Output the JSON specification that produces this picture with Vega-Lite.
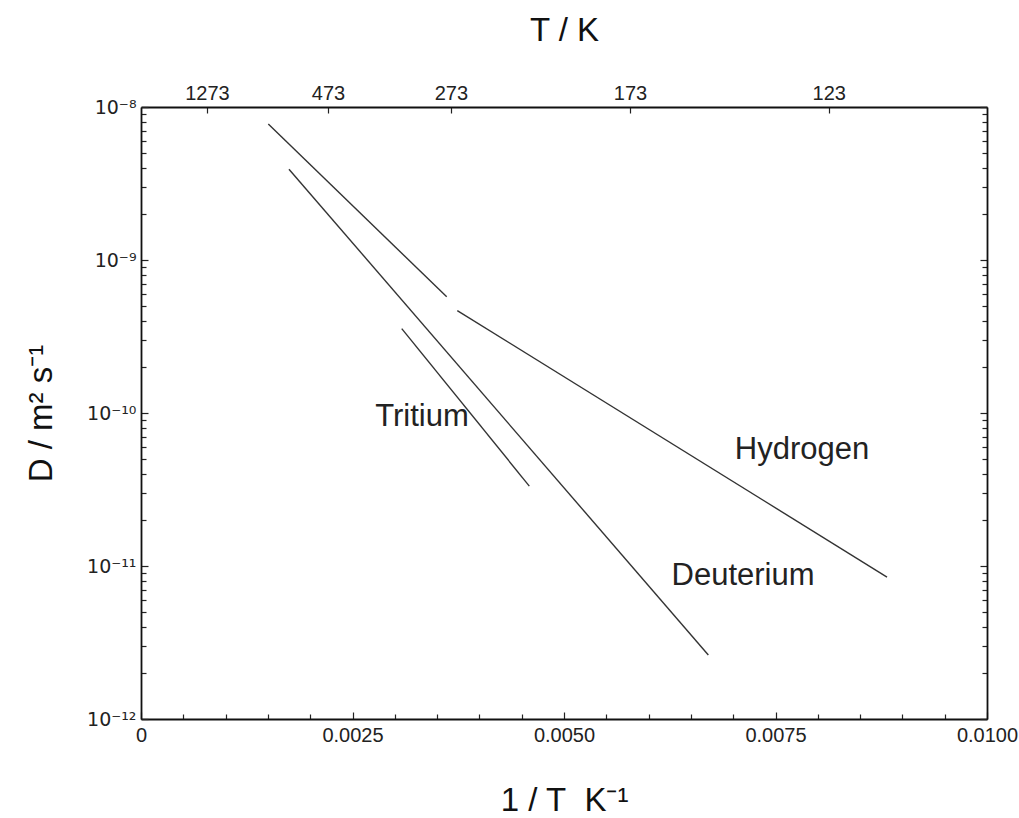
{
  "$schema": "https://vega.github.io/schema/vega-lite/v6.json",
  "autosize": {"type": "none"},
  "padding": {"left": 141, "top": 107, "right": 32, "bottom": 99},
  "width": 846,
  "height": 612,
  "background": "white",
  "config": {
    "view": {"stroke": null},
    "font": "Liberation Sans",
    "axis": {
      "domainColor": "#111",
      "domainWidth": 1.8,
      "tickColor": "#222",
      "tickWidth": 1.2,
      "labelFont": "Liberation Sans",
      "labelColor": "#222",
      "titleFont": "Liberation Sans",
      "titleColor": "#111",
      "titleFontWeight": "normal",
      "grid": false
    }
  },
  "resolve": {"scale": {"x": "independent", "y": "independent"}, "axis": {"x": "independent", "y": "independent"}},
  "layer": [
    {
      "data": {"values": [
        {"series": "H1", "invT": 0.0015047, "D": 7.74e-9},
        {"series": "H1", "invT": 0.0036135, "D": 5.75e-10},
        {"series": "H2", "invT": 0.0037388, "D": 4.67e-10},
        {"series": "H2", "invT": 0.008818, "D": 8.47e-12},
        {"series": "D", "invT": 0.001749, "D": 3.92e-9},
        {"series": "D", "invT": 0.006706, "D": 2.62e-12},
        {"series": "T", "invT": 0.003082, "D": 3.56e-10},
        {"series": "T", "invT": 0.00459, "D": 3.33e-11}
      ]},
      "mark": {"type": "line", "color": "#333", "strokeWidth": 1.4},
      "encoding": {
        "detail": {"field": "series"},
        "x": {
          "field": "invT", "type": "quantitative",
          "scale": {"domain": [0, 0.01], "nice": false, "zero": false},
          "axis": {
            "orient": "bottom",
            "title": "1 / T\u00a0\u00a0K⁻¹",
            "titleFontSize": 33,
            "titlePadding": 37,
            "values": [0, 0.0005, 0.001, 0.0015, 0.002, 0.0025, 0.003, 0.0035, 0.004, 0.0045, 0.005, 0.0055, 0.006, 0.0065, 0.007, 0.0075, 0.008, 0.0085, 0.009, 0.0095, 0.01],
            "labelExpr": "datum.value == 0 ? '0' : (abs(datum.value/0.0025 - round(datum.value/0.0025)) < 0.001 ? format(datum.value, '.4f') : '')",
            "labelFontSize": 20,
            "labelPadding": 13,
            "labelFlush": false,
            "labelOverlap": false,
            "tickSize": {"condition": {"test": "abs(datum.value/0.0025 - round(datum.value/0.0025)) < 0.001", "value": -7}, "value": -5}
          }
        },
        "y": {
          "field": "D", "type": "quantitative",
          "scale": {"type": "log", "domain": [1e-12, 1e-8], "nice": false},
          "axis": {
            "orient": "left",
            "title": "D / m² s⁻¹",
            "titleFontSize": 33,
            "titlePadding": 28,
            "values": [1e-12, 2e-12, 3e-12, 4e-12, 5e-12, 6e-12, 7e-12, 8e-12, 9e-12, 1e-11, 2e-11, 3e-11, 4e-11, 5e-11, 6e-11, 7e-11, 8e-11, 9e-11, 1e-10, 2e-10, 3e-10, 4e-10, 5e-10, 6e-10, 7e-10, 8e-10, 9e-10, 1e-9, 2e-9, 3e-9, 4e-9, 5e-9, 6e-9, 7e-9, 8e-9, 9e-9, 1e-8],
            "labelExpr": "datum.value == 1e-8 ? '10⁻⁸' : datum.value == 1e-9 ? '10⁻⁹' : datum.value == 1e-10 ? '10⁻¹⁰' : datum.value == 1e-11 ? '10⁻¹¹' : datum.value == 1e-12 ? '10⁻¹²' : ''",
            "labelFont": "DejaVu Sans",
            "labelFontSize": 19,
            "labelPadding": 12,
            "labelOverlap": false,
            "labelFlush": false,
            "tickSize": {"condition": {"test": "datum.value == 1e-8 || datum.value == 1e-9 || datum.value == 1e-10 || datum.value == 1e-11 || datum.value == 1e-12", "value": -7}, "value": -5}
          }
        }
      }
    },
    {
      "data": {"values": [
        {"label": "Tritium", "invT": 0.0033215, "D": 9.42e-11},
        {"label": "Hydrogen", "invT": 0.007813, "D": 5.73e-11},
        {"label": "Deuterium", "invT": 0.007116, "D": 8.61e-12}
      ]},
      "mark": {"type": "text", "fontSize": 31, "color": "#222", "font": "Liberation Sans"},
      "encoding": {
        "text": {"field": "label"},
        "x": {
          "field": "invT", "type": "quantitative",
          "scale": {"domain": [0, 0.01], "nice": false, "zero": false},
          "axis": {
            "orient": "top",
            "title": "T / K",
            "titleFontSize": 33,
            "titlePadding": 36,
            "values": [0.00078, 0.00221, 0.003663, 0.00578, 0.00813],
            "labelExpr": "datum.value < 0.001 ? '1273' : datum.value < 0.003 ? '473' : datum.value < 0.005 ? '273' : datum.value < 0.007 ? '173' : '123'",
            "labelFontSize": 20,
            "labelPadding": 10,
            "labelOverlap": false,
            "tickSize": -6
          }
        },
        "y": {
          "field": "D", "type": "quantitative",
          "scale": {"type": "log", "domain": [1e-12, 1e-8], "nice": false},
          "axis": {
            "orient": "right",
            "title": null,
            "labels": false,
            "values": [1e-12, 2e-12, 3e-12, 4e-12, 5e-12, 6e-12, 7e-12, 8e-12, 9e-12, 1e-11, 2e-11, 3e-11, 4e-11, 5e-11, 6e-11, 7e-11, 8e-11, 9e-11, 1e-10, 2e-10, 3e-10, 4e-10, 5e-10, 6e-10, 7e-10, 8e-10, 9e-10, 1e-9, 2e-9, 3e-9, 4e-9, 5e-9, 6e-9, 7e-9, 8e-9, 9e-9, 1e-8],
            "tickSize": {"condition": {"test": "datum.value == 1e-8 || datum.value == 1e-9 || datum.value == 1e-10 || datum.value == 1e-11 || datum.value == 1e-12", "value": -7}, "value": -5}
          }
        }
      }
    }
  ]
}
